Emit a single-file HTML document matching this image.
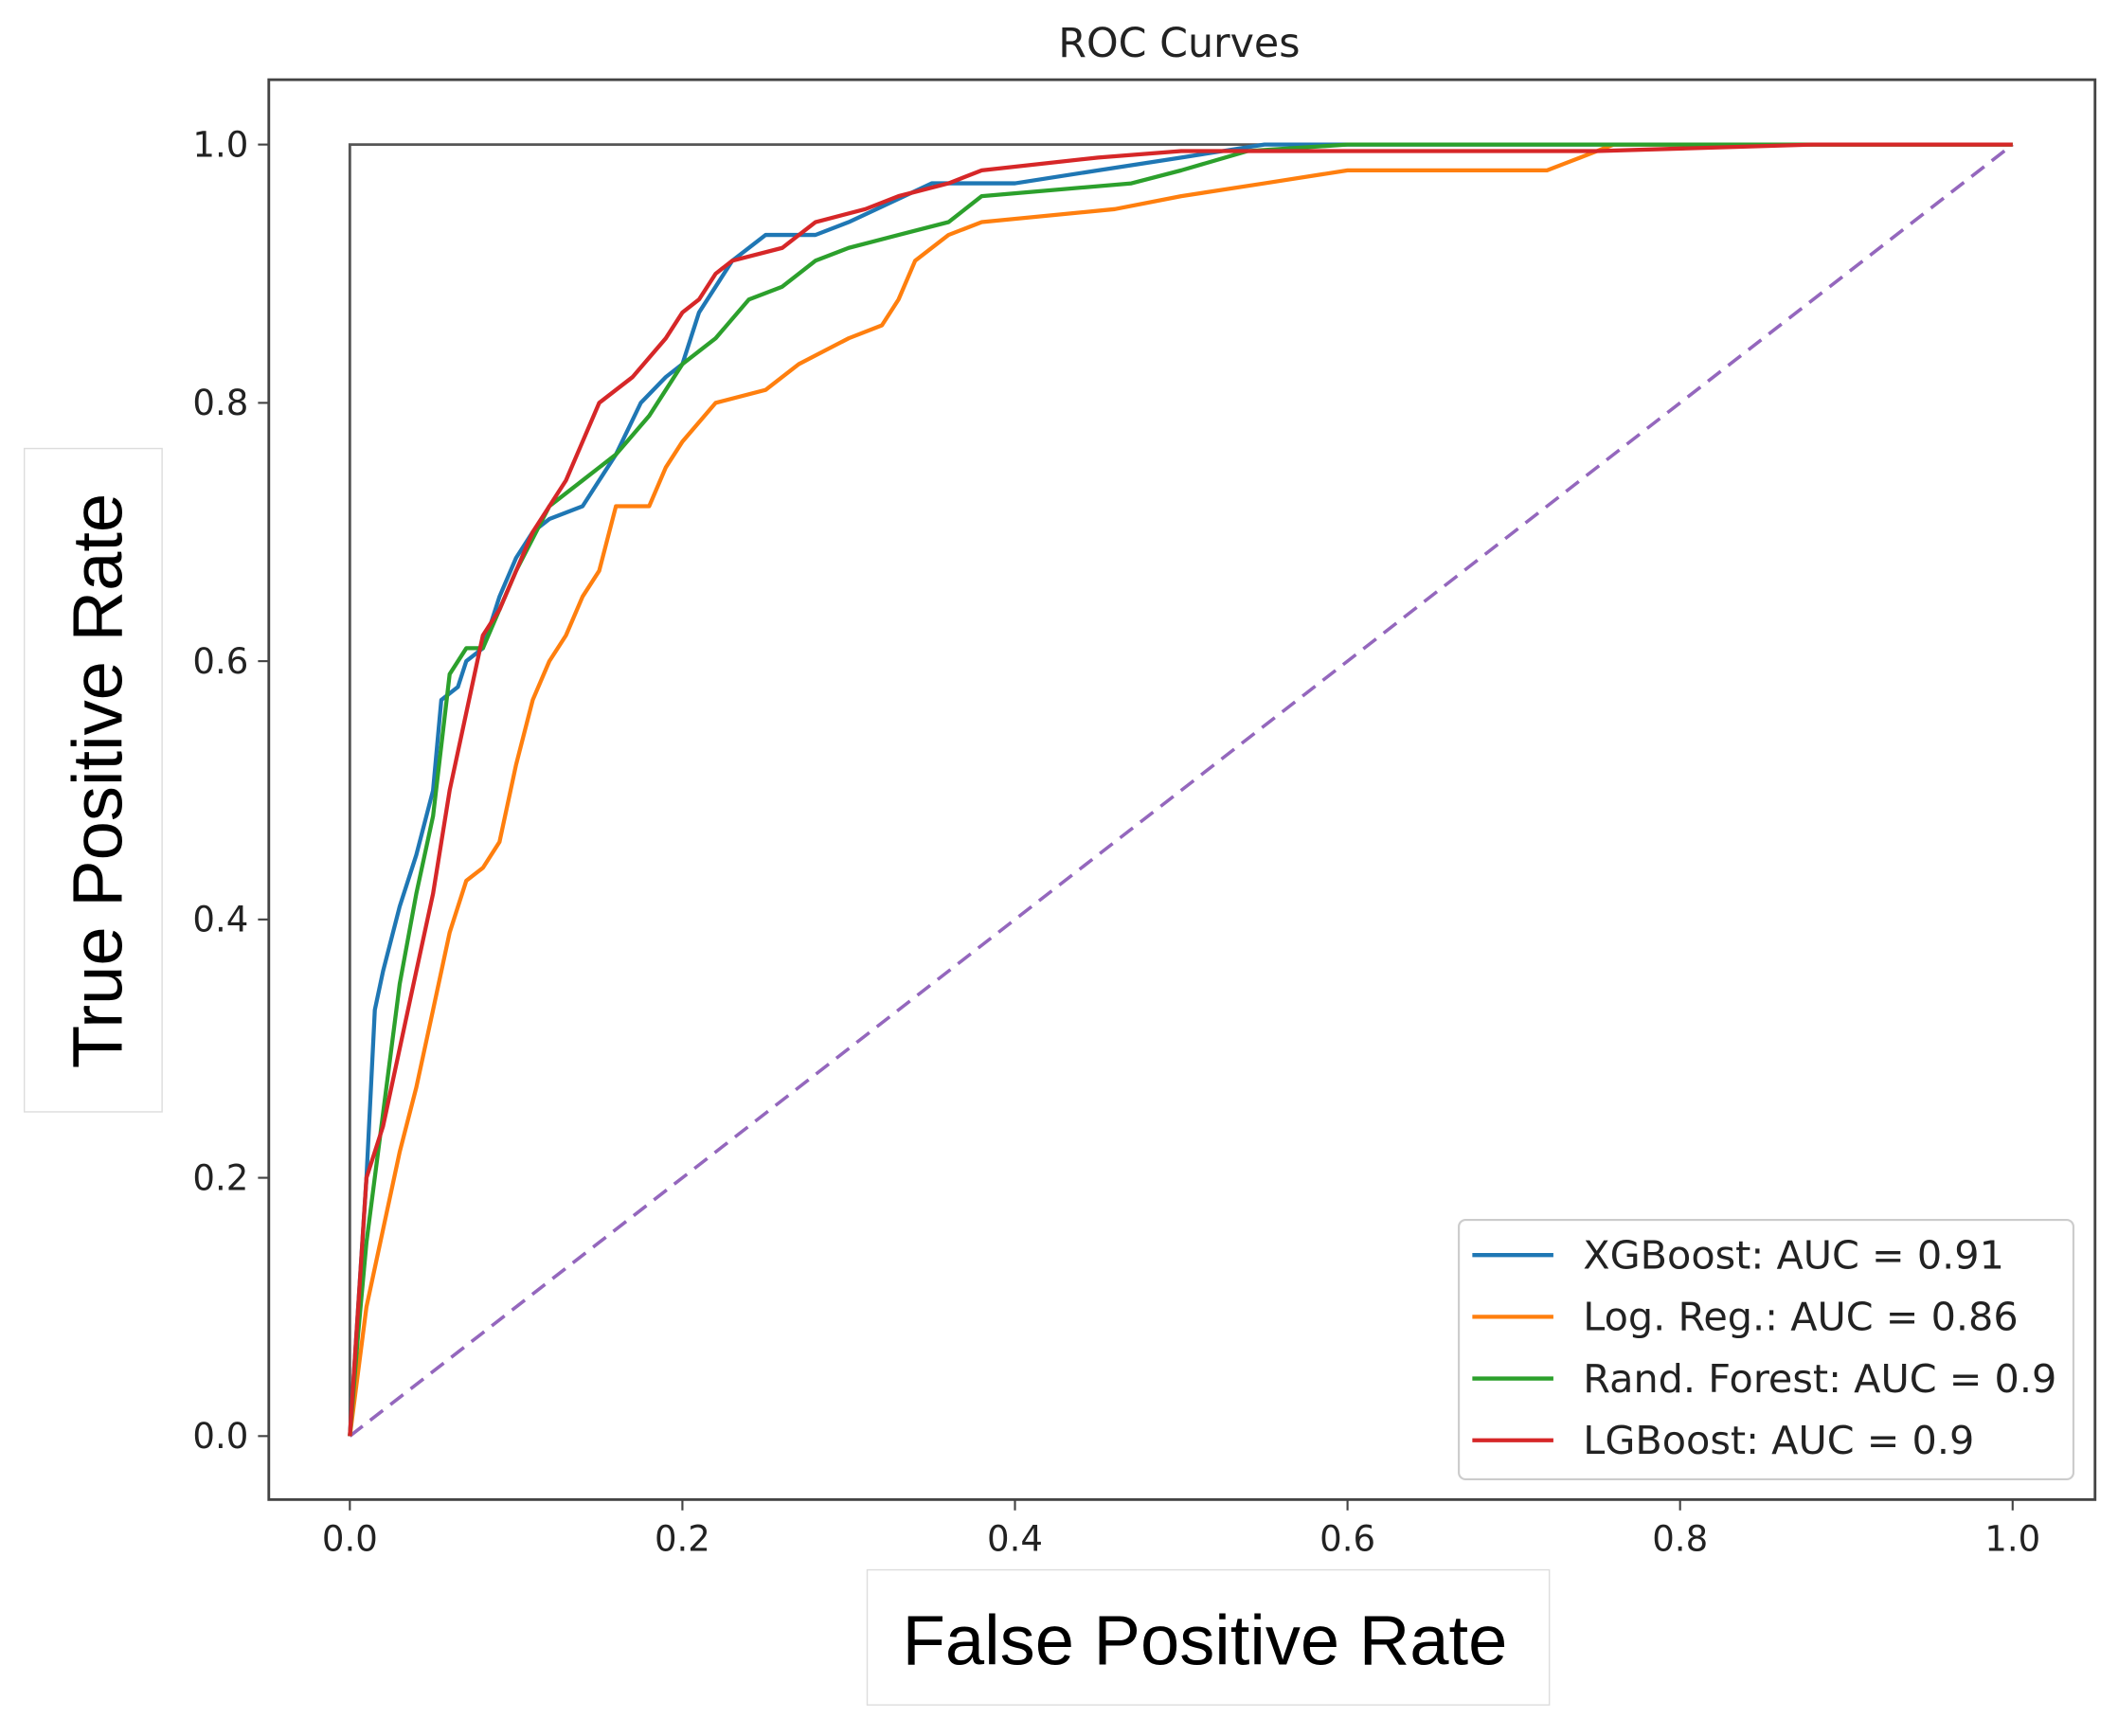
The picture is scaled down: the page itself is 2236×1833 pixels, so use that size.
<!DOCTYPE html>
<html><head><meta charset="utf-8"><style>
html,body{margin:0;padding:0;background:#fff;}
svg{display:block;}
</style></head><body>
<svg id="chart" width="2236" height="1833" viewBox="0 0 1568 1285" preserveAspectRatio="none" xmlns="http://www.w3.org/2000/svg">
<rect x="0" y="0" width="1568" height="1285" fill="#fff"/>
<text x="873" y="42" text-anchor="middle" font-family="DejaVu Sans, sans-serif" font-size="30" fill="#222">ROC Curves</text>
<g id="ticks"></g>
<g id="series"></g>
<rect x="199" y="59" width="1352" height="1051" fill="none" stroke="#444" stroke-width="2"/>
<rect x="18" y="332" width="102" height="491" fill="#fff" stroke="#ddd" stroke-width="1"/>
<text transform="translate(90,578) rotate(-90)" text-anchor="middle" font-family="Liberation Sans, sans-serif" font-size="52" fill="#000">True Positive Rate</text>
<rect x="642" y="1162" width="505" height="100" fill="#fff" stroke="#ddd" stroke-width="1"/>
<text x="892" y="1232" text-anchor="middle" font-family="Liberation Sans, sans-serif" font-size="52" fill="#000">False Positive Rate</text>
<g id="legend"></g>
</svg>
<script>
const ticks = [0, 0.2, 0.4, 0.6, 0.8, 1.0];
const tickLabels = ["0.0", "0.2", "0.4", "0.6", "0.8", "1.0"];
const seriesNames = ["XGBoost: AUC = 0.91", "Log. Reg.: AUC = 0.86", "Rand. Forest: AUC = 0.9", "LGBoost: AUC = 0.9"];
const xgbFpr = [0,0.01,0.015,0.02,0.03,0.04,0.05,0.055,0.065,0.07,0.08,0.09,0.1,0.11,0.12,0.14,0.15,0.16,0.175,0.19,0.2,0.21,0.22,0.23,0.25,0.28,0.3,0.35,0.4,0.45,0.5,0.55,1];
const xgbTpr = [0,0.2,0.33,0.36,0.41,0.45,0.5,0.57,0.58,0.6,0.61,0.65,0.68,0.70,0.71,0.72,0.74,0.76,0.80,0.82,0.83,0.87,0.89,0.91,0.93,0.93,0.94,0.97,0.97,0.98,0.99,1.0,1.0];
const lrFpr = [0,0.01,0.02,0.03,0.04,0.05,0.06,0.07,0.08,0.09,0.1,0.11,0.12,0.13,0.14,0.15,0.16,0.18,0.19,0.2,0.22,0.25,0.27,0.3,0.32,0.33,0.34,0.36,0.38,0.46,0.5,0.55,0.6,0.72,0.74,0.76,1];
const lrTpr = [0,0.1,0.16,0.22,0.27,0.33,0.39,0.43,0.44,0.46,0.52,0.57,0.6,0.62,0.65,0.67,0.72,0.72,0.75,0.77,0.80,0.81,0.83,0.85,0.86,0.88,0.91,0.93,0.94,0.95,0.96,0.97,0.98,0.98,0.99,1.0,1.0];
const rfFpr = [0,0.005,0.01,0.02,0.03,0.04,0.05,0.06,0.07,0.08,0.1,0.12,0.14,0.16,0.18,0.2,0.22,0.24,0.26,0.28,0.3,0.33,0.36,0.38,0.47,0.5,0.54,0.6,1];
const rfTpr = [0,0.08,0.15,0.25,0.35,0.42,0.48,0.59,0.61,0.61,0.67,0.72,0.74,0.76,0.79,0.83,0.85,0.88,0.89,0.91,0.92,0.93,0.94,0.96,0.97,0.98,0.995,1.0,1.0];
const lgFpr = [0,0.005,0.01,0.02,0.03,0.04,0.05,0.06,0.07,0.08,0.09,0.1,0.11,0.12,0.13,0.14,0.15,0.17,0.19,0.2,0.21,0.22,0.23,0.26,0.28,0.31,0.33,0.36,0.38,0.45,0.5,0.75,0.88,1];
const lgTpr = [0,0.1,0.2,0.24,0.3,0.36,0.42,0.5,0.56,0.62,0.64,0.67,0.70,0.72,0.74,0.77,0.80,0.82,0.85,0.87,0.88,0.90,0.91,0.92,0.94,0.95,0.96,0.97,0.98,0.99,0.995,0.995,1.0,1.0];
const colors = ["#1f77b4", "#ff7f0e", "#2ca02c", "#d62728"];

const NS = "http://www.w3.org/2000/svg";
const xS = v => 259 + v * 1231;
const yS = v => 1063 - v * 956;
function mk(tag, attrs, parent){ const e=document.createElementNS(NS,tag); for(const k in attrs) e.setAttribute(k,attrs[k]); parent.appendChild(e); return e; }

const tg = document.getElementById('ticks');
ticks.forEach((t,i)=>{
  const a = mk('line',{x1:xS(t),x2:xS(t),y1:1110,y2:1118,stroke:'#444','stroke-width':1.5},tg);
  
  
  const lx = mk('text',{x:xS(t),y:1148,'text-anchor':'middle','font-family':'DejaVu Sans, sans-serif','font-size':26,fill:'#222'},tg);
  lx.textContent = tickLabels[i];
  
  
  const b = mk('line',{x1:191,x2:199,y1:yS(t),y2:yS(t),stroke:'#444','stroke-width':1.5},tg);
  
  
  const ly = mk('text',{x:184,y:yS(t)+9,'text-anchor':'end','font-family':'DejaVu Sans, sans-serif','font-size':26,fill:'#222'},tg);
  ly.textContent = tickLabels[i];
  
  
});

const sg = document.getElementById('series');
const perfect = mk('polyline',{points:`${xS(0)},${yS(0)} ${xS(0)},${yS(1)} ${xS(1)},${yS(1)}`,fill:'none',stroke:'#555','stroke-width':2},sg);


const diag = mk('line',{x1:xS(0),y1:yS(0),x2:xS(1),y2:yS(1),stroke:'#9467bd','stroke-width':2.5,'stroke-dasharray':'12 7'},sg);



const all = [[xgbFpr,xgbTpr],[lrFpr,lrTpr],[rfFpr,rfTpr],[lgFpr,lgTpr]];
const names = ['xgboost-curve','logreg-curve','random-forest-curve','lgboost-curve'];
all.forEach(([fx,ty],i)=>{
  const pts = fx.map((f,j)=>`${xS(f).toFixed(1)},${yS(ty[j]).toFixed(1)}`).join(' ');
  const p = mk('polyline',{points:pts,fill:'none',stroke:colors[i],'stroke-width':3,'stroke-linejoin':'round'},sg);
  
  
});

const lg = document.getElementById('legend');
const box = mk('rect',{x:1080,y:903,width:455,height:192,rx:5,fill:'#fff',stroke:'#ccc','stroke-width':1.5},lg);


seriesNames.forEach((n,i)=>{
  const y = 929 + i*45.7;
  const l = mk('line',{x1:1090,x2:1150,y1:y,y2:y,stroke:colors[i],'stroke-width':3},lg);
  
  
  const t = mk('text',{x:1172,y:y+10,'font-family':'DejaVu Sans, sans-serif','font-size':29,fill:'#222'},lg);
  t.textContent = n;
  
  
});
</script>
</body></html>
